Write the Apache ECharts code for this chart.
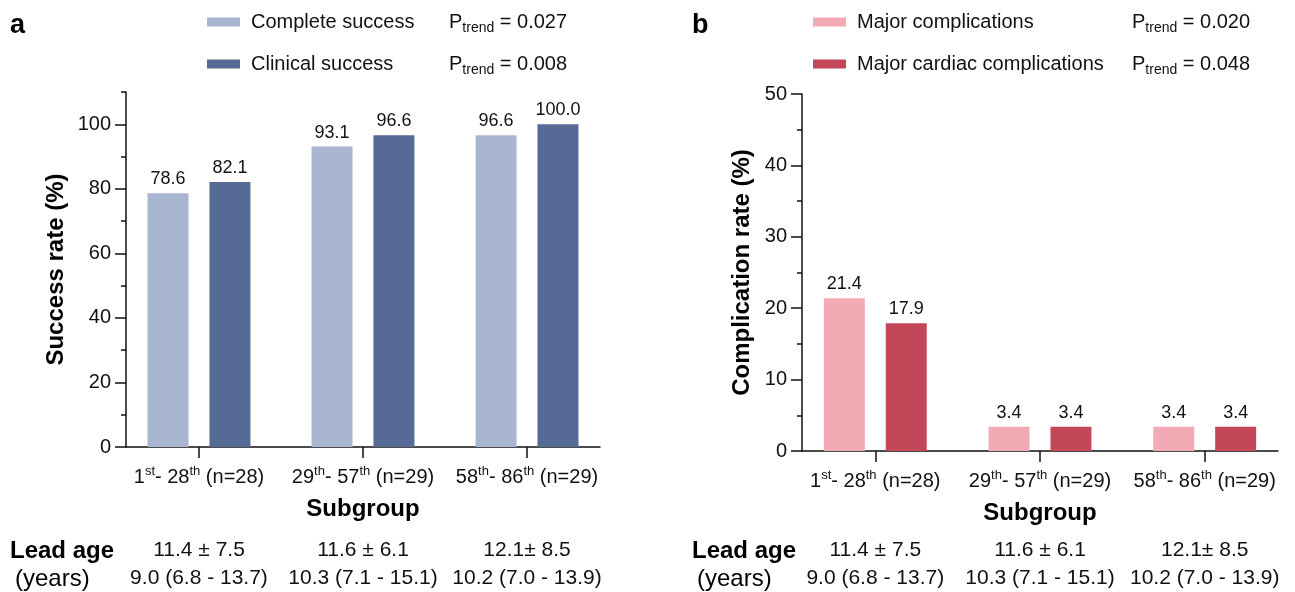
<!DOCTYPE html>
<html>
<head>
<meta charset="utf-8">
<script src="https://cdn.jsdelivr.net/npm/echarts@6/dist/echarts.min.js"></script>
<style>
  html, body { margin: 0; padding: 0; background: #fff; }
  #chart { width: 1295px; height: 592px; }
</style>
</head>
<body>
<div id="chart"></div>
<script>
// subgroups (order of extraction)
var rangeStart = ['1', '29', '58'];
var rangeStartSuffix = ['st', 'th', 'th'];
var rangeEnd = ['28', '57', '86'];
var groupN = [28, 29, 29];

// lead age per subgroup
var leadAgeMeanSd = ['11.4 ± 7.5', '11.6 ± 6.1', '12.1± 8.5'];
var leadAgeMedianIqr = ['9.0 (6.8 - 13.7)', '10.3 (7.1 - 15.1)', '10.2 (7.0 - 13.9)'];

// panel a - success
var completeSuccess = [78.6, 93.1, 96.6];
var clinicalSuccess = [82.1, 96.6, 100.0];
var successNames = ['Complete success', 'Clinical success'];
var successPTrend = ['0.027', '0.008'];
var successTicks = [0, 20, 40, 60, 80, 100];
var successMinorTicks = [10, 30, 50, 70, 90, 110];

// panel b - complications
var majorComplications = [21.4, 3.4, 3.4];
var majorCardiac = [17.9, 3.4, 3.4];
var complicationNames = ['Major complications', 'Major cardiac complications'];
var complicationPTrend = ['0.020', '0.048'];
var complicationTicks = [0, 10, 20, 30, 40, 50];
var complicationMinorTicks = [5, 15, 25, 35, 45];

var FONT = 'Liberation Sans, Arial, Helvetica, sans-serif';
var groupIdx = [0, 1, 2];

function pairs(vals) {
  return vals.map(function (v, i) { return [groupIdx[i], v]; });
}

function catLabel(i) {
  return '{b|' + rangeStart[i] + '}{sup|' + rangeStartSuffix[i] + '}{b|- ' + rangeEnd[i] +
    '}{sup|th}{b| (n=' + groupN[i] + ')}';
}

var xMin = -0.445, xMax = 2.445;

function panel(p) {
  // p.g = first grid index
  var grids = [
    { left: p.left, top: p.top, width: p.width, height: p.height },
    { left: p.left, top: p.top, width: p.width, height: p.height },
    { left: p.left, top: 520, width: p.width, height: 10 }
  ];
  var xAxes = [
    {
      gridIndex: p.g, type: 'value', min: xMin, max: xMax,
      name: 'Subgroup', nameLocation: 'middle', nameGap: 50,
      nameTextStyle: { fontFamily: FONT, fontSize: 24, fontWeight: 'bold', color: '#000' },
      axisLine: { show: true, onZero: false, lineStyle: { color: '#111', width: 1.5 } },
      axisTick: { show: true, customValues: groupIdx, length: 11, lineStyle: { color: '#111', width: 1.5 } },
      axisLabel: {
        customValues: groupIdx, margin: 18,
        formatter: function (v) { return catLabel(Math.round(v)); },
        rich: {
          b: { fontFamily: FONT, fontSize: 20, color: '#111', lineHeight: 24 },
          sup: { fontFamily: FONT, fontSize: 13, color: '#111', lineHeight: 13, verticalAlign: 'top' }
        }
      },
      splitLine: { show: false }
    },
    {
      gridIndex: p.g + 1, type: 'value', min: xMin, max: xMax, show: false
    },
    {
      gridIndex: p.g + 2, type: 'value', min: xMin, max: xMax,
      axisLine: { show: false }, axisTick: { show: false }, splitLine: { show: false },
      axisLabel: {
        customValues: groupIdx, margin: 7,
        fontFamily: FONT, fontSize: 21, color: '#111', lineHeight: 28,
        formatter: function (v) {
          var i = Math.round(v);
          return leadAgeMeanSd[i] + '\n' + leadAgeMedianIqr[i];
        }
      }
    }
  ];
  var yAxes = [
    {
      gridIndex: p.g, type: 'value', min: 0, max: p.yMax,
      name: p.yName, nameLocation: 'middle', nameGap: p.nameGap,
      nameTextStyle: { fontFamily: FONT, fontSize: 24, fontWeight: 'bold', color: '#000' },
      axisLine: { show: true, onZero: false, lineStyle: { color: '#111', width: 1.5 } },
      axisTick: { show: true, customValues: p.ticks, length: 11, lineStyle: { color: '#111', width: 1.5 } },
      axisLabel: { customValues: p.ticks, margin: 15, fontFamily: FONT, fontSize: 20, color: '#111' },
      splitLine: { show: false }
    },
    {
      gridIndex: p.g + 1, type: 'value', min: 0, max: p.yMax,
      axisLine: { show: false, onZero: false },
      axisTick: { show: true, customValues: p.minorTicks, length: 5, lineStyle: { color: '#111', width: 1.5 } },
      axisLabel: { show: false },
      splitLine: { show: false }
    },
    {
      gridIndex: p.g + 2, type: 'value', show: false
    }
  ];
  var series = p.values.map(function (vals, k) {
    return {
      type: 'bar', name: p.names[k],
      xAxisIndex: p.g, yAxisIndex: p.g,
      data: pairs(vals),
      barWidth: 41, barGap: '51%',
      itemStyle: { color: p.colors[k] },
      label: {
        show: true, position: 'top', distance: 5,
        fontFamily: FONT, fontSize: 18, color: '#111',
        formatter: function (prm) { return prm.value[1].toFixed(1); }
      }
    };
  });
  var legend = {
    left: p.legendLeft, top: 7, orient: 'vertical',
    icon: 'rect', itemWidth: 33, itemHeight: 9, itemGap: 19,
    selectedMode: false,
    data: p.names,
    formatter: function (name) {
      var i = p.names.indexOf(name);
      return '{n|' + name + '}{p|P}{s|trend}{v| = ' + p.pTrend[i] + '}';
    },
    textStyle: {
      fontFamily: FONT, fontSize: 20, color: '#111',
      rich: {
        n: { fontFamily: FONT, fontSize: 20, color: '#111', width: p.nameWidth, padding: [0, 0, 0, 6], lineHeight: 26 },
        p: { fontFamily: FONT, fontSize: 20, color: '#111', lineHeight: 26 },
        s: { fontFamily: FONT, fontSize: 14, color: '#111', lineHeight: 14, verticalAlign: 'bottom' },
        v: { fontFamily: FONT, fontSize: 20, color: '#111', lineHeight: 26 }
      }
    }
  };
  return { grids: grids, xAxes: xAxes, yAxes: yAxes, series: series, legend: legend };
}

var pa = panel({
  g: 0, left: 126, top: 92, width: 474, height: 355,
  yMax: 110, ticks: successTicks, minorTicks: successMinorTicks,
  yName: 'Success rate (%)', nameGap: 58,
  values: [completeSuccess, clinicalSuccess], names: successNames,
  colors: ['#A9B6D2', '#566A96'], pTrend: successPTrend,
  legendLeft: 202, nameWidth: 198
});
var pb = panel({
  g: 3, left: 802, top: 94, width: 476, height: 357,
  yMax: 50, ticks: complicationTicks, minorTicks: complicationMinorTicks,
  yName: 'Complication rate (%)', nameGap: 48,
  values: [majorComplications, majorCardiac], names: complicationNames,
  colors: ['#F2ABB4', '#C44659'], pTrend: complicationPTrend,
  legendLeft: 808, nameWidth: 275
});

var chart = echarts.init(document.getElementById('chart'), null, { renderer: 'canvas' });

var option = {
  animation: false,
  backgroundColor: '#fff',
  grid: pa.grids.concat(pb.grids),
  xAxis: pa.xAxes.concat(pb.xAxes),
  yAxis: pa.yAxes.concat(pb.yAxes),
  legend: [pa.legend, pb.legend],
  series: pa.series.concat(pb.series),
  graphic: [
    { type: 'text', left: 10, top: 12, style: { text: 'a', font: 'bold 27px ' + FONT, fill: '#000' } },
    { type: 'text', left: 692, top: 12, style: { text: 'b', font: 'bold 27px ' + FONT, fill: '#000' } },
    { type: 'text', left: 10, top: 539, style: { text: 'Lead age', font: 'bold 24px ' + FONT, fill: '#000' } },
    { type: 'text', left: 15, top: 567, style: { text: '(years)', font: '24px ' + FONT, fill: '#000' } },
    { type: 'text', left: 692, top: 539, style: { text: 'Lead age', font: 'bold 24px ' + FONT, fill: '#000' } },
    { type: 'text', left: 697, top: 567, style: { text: '(years)', font: '24px ' + FONT, fill: '#000' } }
  ]
};

chart.setOption(option);
</script>
</body>
</html>
